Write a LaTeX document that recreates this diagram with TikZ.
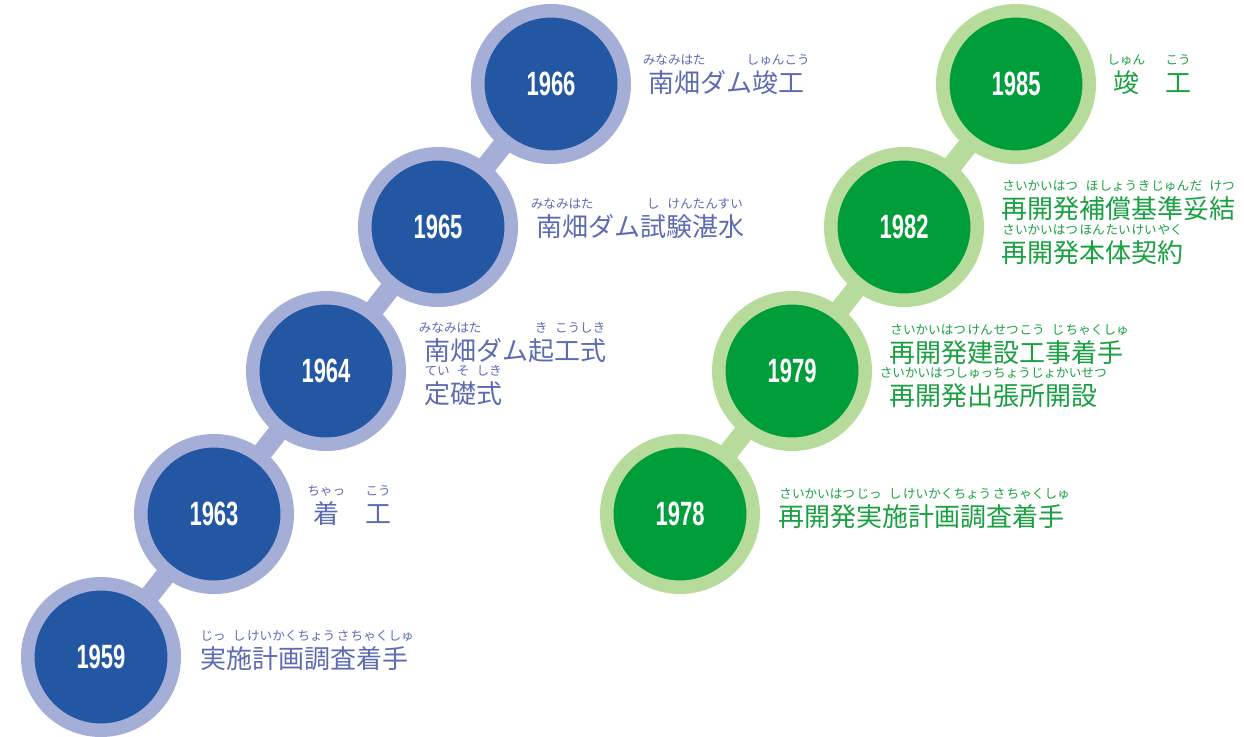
\documentclass[tikz,border=0pt]{standalone}
\usepackage{fontspec}
\setmainfont{Liberation Sans}
\newfontfamily\jp{Noto Sans CJK JP}
\usetikzlibrary{backgrounds}
\definecolor{bdark}{HTML}{2356A3}
\definecolor{blight}{HTML}{A4AED6}
\definecolor{btxt}{HTML}{5D6BB2}
\definecolor{gdark}{HTML}{009E3B}
\definecolor{glight}{HTML}{B6DB9A}
\definecolor{gtxt}{HTML}{19A041}
\newcommand\rubysize{\fontsize{12.6pt}{13pt}\selectfont}
\newcommand\rb[2]{\setbox0\hbox{#1}\makebox[0pt][l]{\makebox[\wd0][c]{\raisebox{27.5pt}{\rubysize #2}}}\box0}
\newcommand\yr[1]{\resizebox{49pt}{23.5pt}{\bfseries #1}}
\tikzset{
  yearb/.style={circle, draw=blight, fill=bdark, line width=13.5pt, minimum size=146.5pt, inner sep=0pt, text=white},
  yearg/.style={circle, draw=glight, fill=gdark, line width=13.5pt, minimum size=146.5pt, inner sep=0pt, text=white},
  connb/.style={draw=blight, line width=20pt},
  conng/.style={draw=glight, line width=20pt},
  lbl/.style={anchor=base west, inner sep=0pt, font=\jp\fontsize{26pt}{30pt}\selectfont},
  lblb/.style={lbl, text=btxt},
  lblg/.style={lbl, text=gtxt}
}
\begin{document}
\begin{tikzpicture}[x=1pt,y=-1pt]
\useasboundingbox (0,0) rectangle (1244,736);
% blue chain
\node[yearb] (c59) at (101,657) {\yr{1959}};
\node[yearb] (c63) at (214,514) {\yr{1963}};
\node[yearb] (c64) at (326,371) {\yr{1964}};
\node[yearb] (c65) at (438,227) {\yr{1965}};
\node[yearb] (c66) at (551,84) {\yr{1966}};
% green chain
\node[yearg] (c78) at (680,514) {\yr{1978}};
\node[yearg] (c79) at (792,371) {\yr{1979}};
\node[yearg] (c82) at (904,227) {\yr{1982}};
\node[yearg] (c85) at (1016,84) {\yr{1985}};
\begin{scope}[on background layer]
\draw[connb] (c59.center) -- (c63.center) -- (c64.center) -- (c65.center) -- (c66.center);
\draw[conng] (c78.center) -- (c79.center) -- (c82.center) -- (c85.center);
\end{scope}
% blue labels
\node[lblb] (t66) at (648,92) {\rb{南畑}{みなみはた}ダム\rb{竣工}{しゅんこう}};
\node[lblb] (t65) at (536,236) {\rb{南畑}{みなみはた}ダム\rb{試}{し}\rb{験湛水}{けんたんすい}};
\node[lblb] (t64a) at (424,360) {\rb{南畑}{みなみはた}ダム\rb{起}{き}\rb{工式}{こうしき}};
\node[lblb] (t64b) at (424,403) {\rb{定}{てい}\rb{礎}{そ}\rb{式}{しき}};
\node[lblb] (t63) at (313,523) {\rb{着}{ちゃっ}　\rb{工}{こう}};
\node[lblb] (t59) at (200,668) {\rb{実}{じっ}\rb{施}{し}\rb{計画調}{けいかくちょう}\rb{査}{さ}\rb{着手}{ちゃくしゅ}};
% green labels
\node[lblg] (t85) at (1113,92) {\rb{竣}{しゅん}　\rb{工}{こう}};
\node[lblg] (t82a) at (1001,218) {\rb{再開発}{さいかいはつ}\rb{補}{ほ}\rb{償}{しょう}\rb{基}{き}\rb{準}{じゅん}\rb{妥}{だ}\rb{結}{けつ}};
\node[lblg] (t82b) at (1001,262) {\rb{再開発}{さいかいはつ}\rb{本}{ほん}\rb{体}{たい}\rb{契}{けい}\rb{約}{やく}};
\node[lblg] (t79a) at (889,362) {\rb{再開発}{さいかいはつ}\rb{建}{けん}\rb{設}{せつ}\rb{工}{こう}\rb{事}{じ}\rb{着手}{ちゃくしゅ}};
\node[lblg] (t79b) at (889,405) {\rb{再開発出張所開設}{さいかいはつしゅっちょうじょかいせつ}};
\node[lblg] (t78) at (778,526) {\rb{再開発}{さいかいはつ}\rb{実}{じっ}\rb{施}{し}\rb{計画調}{けいかくちょう}\rb{査}{さ}\rb{着手}{ちゃくしゅ}};
\end{tikzpicture}
\end{document}
